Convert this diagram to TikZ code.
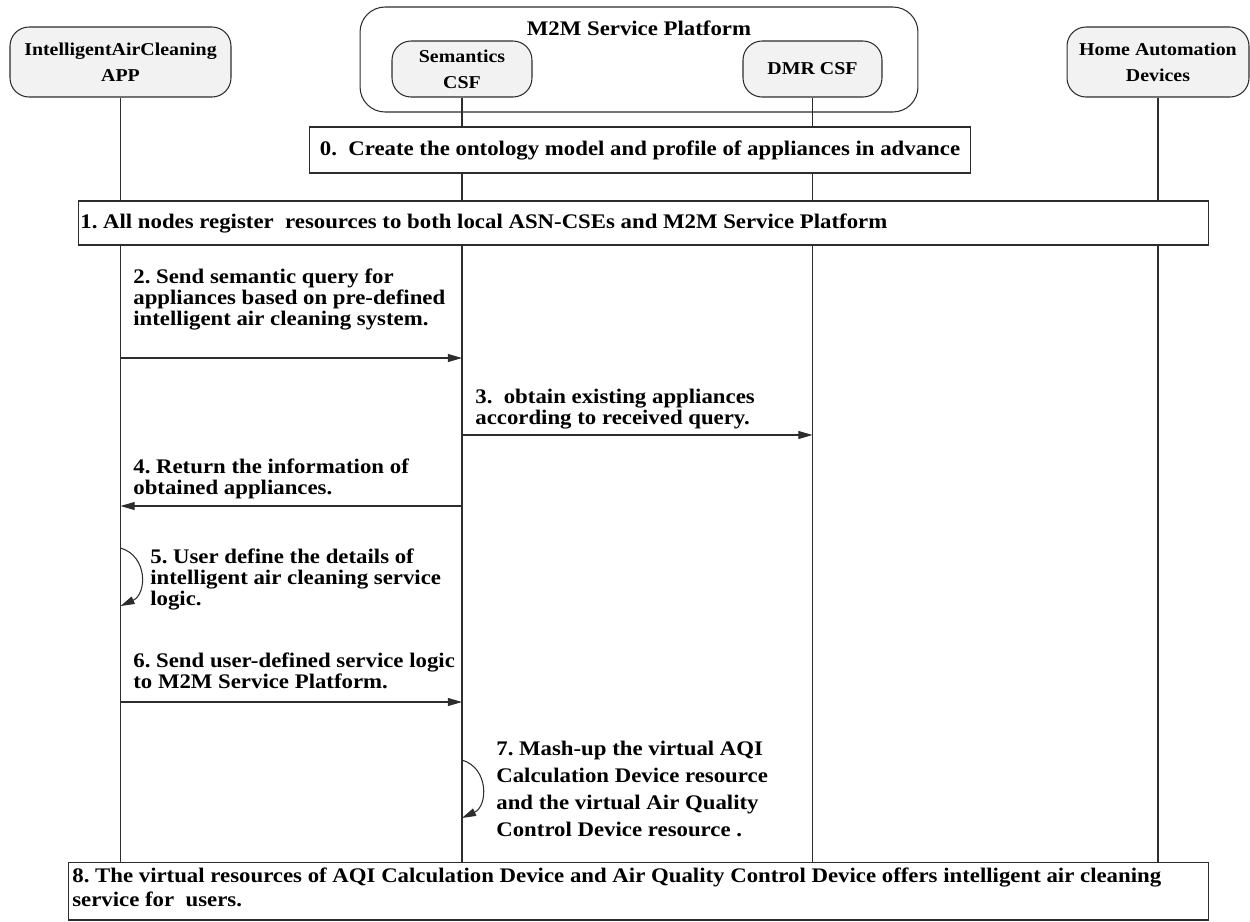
\documentclass[tikz,border=0pt]{standalone}
\usepackage{fontspec}
\setmainfont{Liberation Serif}[FakeStretch=1.1]
\usetikzlibrary{arrows.meta}
\definecolor{boxgray}{RGB}{242,242,242}
\definecolor{linegray}{RGB}{45,45,45}
\frenchspacing
% lines of a message label, fixed baseline distance
\newcommand{\msglines}[1]{\vbox{\lineskiplimit=-\maxdimen\def\\{\egroup\hbox\bgroup}\hbox\bgroup#1\egroup}}

\tikzset{
  lifebox/.style={draw=linegray, fill=boxgray, rounded corners=0.38cm, line width=0.6pt,
                  align=center, font=\fontsize{10.3}{14.7}\selectfont\bfseries},
  lifeline/.style={draw=linegray, line width=0.6pt},
  stepbox/.style={draw=linegray, fill=white, line width=0.6pt, inner sep=0pt,
                  font=\fontsize{11.8}{15.5}\selectfont\bfseries},
  msgtext/.style={anchor=base west, inner sep=0pt, font=\fontsize{11.8}{11.8}\selectfont\bfseries},
  msg/.style={-{Triangle[length=8pt,width=4.5pt]}, draw=linegray, line width=0.6pt},
}

\begin{document}
\begin{tikzpicture}[x=0.02cm, y=-0.02cm]
  \useasboundingbox (0,0) rectangle (1250,921);

  % Platform frame
  \node[draw=linegray, rounded corners=0.5cm, line width=0.6pt,
        minimum width=11.16cm, minimum height=2.1cm] (platform) at (639,59.5) {};
  \node[font=\fontsize{11.8}{15.5}\selectfont\bfseries] (ptitle) at (639,28) {M2M Service Platform};

  % Participants
  \node[lifebox, minimum width=4.42cm, minimum height=1.4cm] (app) at (120.5,62) {IntelligentAirCleaning\\APP};
  \node[lifebox, minimum width=2.8cm, minimum height=1.12cm] (sem) at (462,69) {Semantics\\CSF};
  \node[lifebox, minimum width=2.78cm, minimum height=1.12cm] (dmr) at (812.5,69) {DMR CSF};
  \node[lifebox, minimum width=3.64cm, minimum height=1.4cm] (home) at (1158,62) {Home Automation\\Devices};

  % Bottom box, lifelines end on it
  \node[stepbox, minimum width=22.82cm, minimum height=1.16cm] (offer) at (638.5,891) {};
  \node[msgtext, font=\fontsize{11.8}{13.6}\selectfont\bfseries] (offerText) at (72,906)
    {\msglines{8. The virtual resources of AQI Calculation Device and Air Quality Control Device offers intelligent air cleaning\\service for\ \ users.}};

  % Lifelines
  \draw[lifeline] (app) -- (app |- offer.north);
  \draw[lifeline] (sem) -- (sem |- offer.north);
  \draw[lifeline] (dmr) -- (dmr |- offer.north);
  \draw[lifeline] (home) -- (home |- offer.north);

  % Steps 0 and 1
  \node[stepbox, minimum width=13.24cm, minimum height=0.92cm] (create) at (640,150)
    {0.\ \ Create the ontology model and profile of appliances in advance};
  \node[stepbox, minimum width=22.62cm, minimum height=0.88cm] (register) at (643.5,223) {};
  \node[msgtext] (registerText) at (80,228)
    {1. All nodes register\ \ resources to both local ASN-CSEs and M2M Service Platform};

  % 2. query
  \node[msgtext] (t2) at (133,325) {\msglines{2. Send semantic query for\\appliances based on pre-defined\\intelligent air cleaning system.}};
  \draw[msg] (app |- 0,358) -- (sem |- 0,358);

  % 3. obtain
  \node[msgtext] (t3) at (475,424) {\msglines{3.\ \ obtain existing appliances\\according to received query.}};
  \draw[msg] (sem |- 0,435) -- (dmr |- 0,435);

  % 4. return
  \node[msgtext] (t4) at (133,494) {\msglines{4. Return the information of\\obtained appliances.}};
  \draw[msg] (sem |- 0,506) -- (app |- 0,506);

  % 5. user defines logic
  \node[msgtext] (t5) at (150,605) {\msglines{5. User define the details of\\intelligent air cleaning service\\logic.}};
  \draw[msg] (app |- 0,548) .. controls (148,556) and (147,594) .. (app |- 0,606);

  % 6. send logic
  \node[msgtext] (t6) at (133,688) {\msglines{6. Send user-defined service logic\\to M2M Service Platform.}};
  \draw[msg] (app |- 0,702) -- (sem |- 0,702);

  % 7. mash-up
  \node[msgtext, font=\fontsize{11.8}{15.3}\selectfont\bfseries] (t7) at (496,836)
    {\msglines{7. Mash-up the virtual AQI\\Calculation Device resource\\and the virtual Air Quality\\Control Device resource .}};
  \draw[msg] (sem |- 0,760) .. controls (489,768) and (488,806) .. (sem |- 0,818);
\end{tikzpicture}
\end{document}
